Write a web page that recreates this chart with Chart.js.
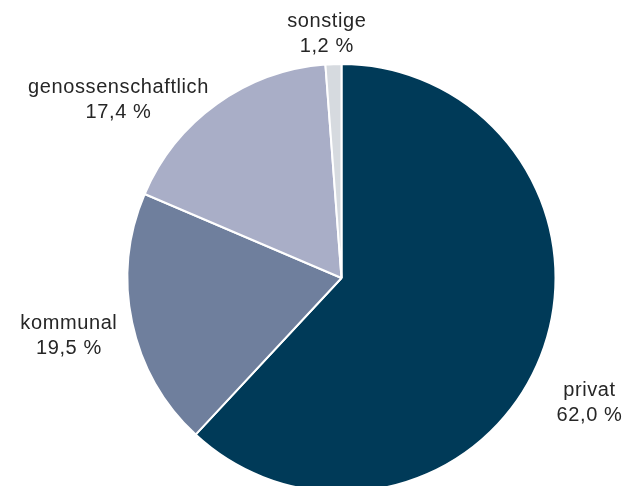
<!DOCTYPE html>
<html>
<head>
<meta charset="utf-8">
<script src="https://cdn.jsdelivr.net/npm/chart.js@4.4.0/dist/chart.umd.min.js"></script>
<style>
  html, body { margin: 0; padding: 0; background: #fff; overflow: hidden; }
  #wrap { position: relative; width: 631px; height: 493px; }
</style>
</head>
<body>
<div id="wrap"><canvas id="pieChart"></canvas></div>
<script>
const categories = ["privat", "kommunal", "genossenschaftlich", "sonstige"];
const shares = [62.0, 19.5, 17.4, 1.2];
const percentLabels = ["62,0 %", "19,5 %", "17,4 %", "1,2 %"];
const sliceColors = ["#003a58", "#6f7f9d", "#a9aec7", "#d6dadf"];

// small vertical nudges for label blocks (px), same order as categories
const labelNudge = [30, 0, 0, 0];

const outsideLabels = {
  id: "outsideLabels",
  afterDatasetsDraw(chart) {
    const ctx = chart.ctx;
    const arcs = chart.getDatasetMeta(0).data;
    ctx.save();
    ctx.font = "20px 'Liberation Sans', Arial, sans-serif";
    ctx.letterSpacing = "0.6px";
    ctx.fillStyle = "#262626";
    ctx.textAlign = "center";
    ctx.textBaseline = "middle";
    const lineH = 25;
    arcs.forEach((arc, i) => {
      const p = arc.getProps(["x", "y", "startAngle", "endAngle", "outerRadius"], true);
      const mid = (p.startAngle + p.endAngle) / 2;
      const r = p.outerRadius * 1.08;
      const ax = p.x + Math.cos(mid) * r;
      const ay = p.y + Math.sin(mid) * r;
      const lines = [categories[i], percentLabels[i]];
      const w = Math.max(...lines.map((t) => ctx.measureText(t).width));
      const h = lineH * 2;
      const c = Math.cos(mid);
      let cx, cy;
      if (Math.abs(c) < 0.2) {
        // near top/bottom: centered, stacked away from the pie
        cx = ax - 6;
        cy = ay + Math.sin(mid) * h / 2 + 12;
      } else {
        cx = c > 0 ? ax + w / 2 : ax - w / 2 + 2;
        cy = ay + 10;
      }
      cy += labelNudge[i];
      lines.forEach((t, j) => {
        ctx.fillText(t, cx, cy + (j - 0.5) * lineH);
      });
    });
    ctx.restore();
  },
};

new Chart(document.getElementById("pieChart"), {
  type: "pie",
  data: {
    labels: categories,
    datasets: [
      {
        data: shares,
        backgroundColor: sliceColors,
        borderColor: "#ffffff",
        borderWidth: 2,
        hoverOffset: 0,
        hoverBorderWidth: 2,
      },
    ],
  },
  options: {
    responsive: true,
    maintainAspectRatio: false,
    animation: false,
    events: [],
    layout: { padding: { left: 126, right: 74, top: 63, bottom: 0 } },
    plugins: {
      legend: { display: false },
      tooltip: { enabled: false },
    },
  },
  plugins: [outsideLabels],
});
</script>
</body>
</html>
